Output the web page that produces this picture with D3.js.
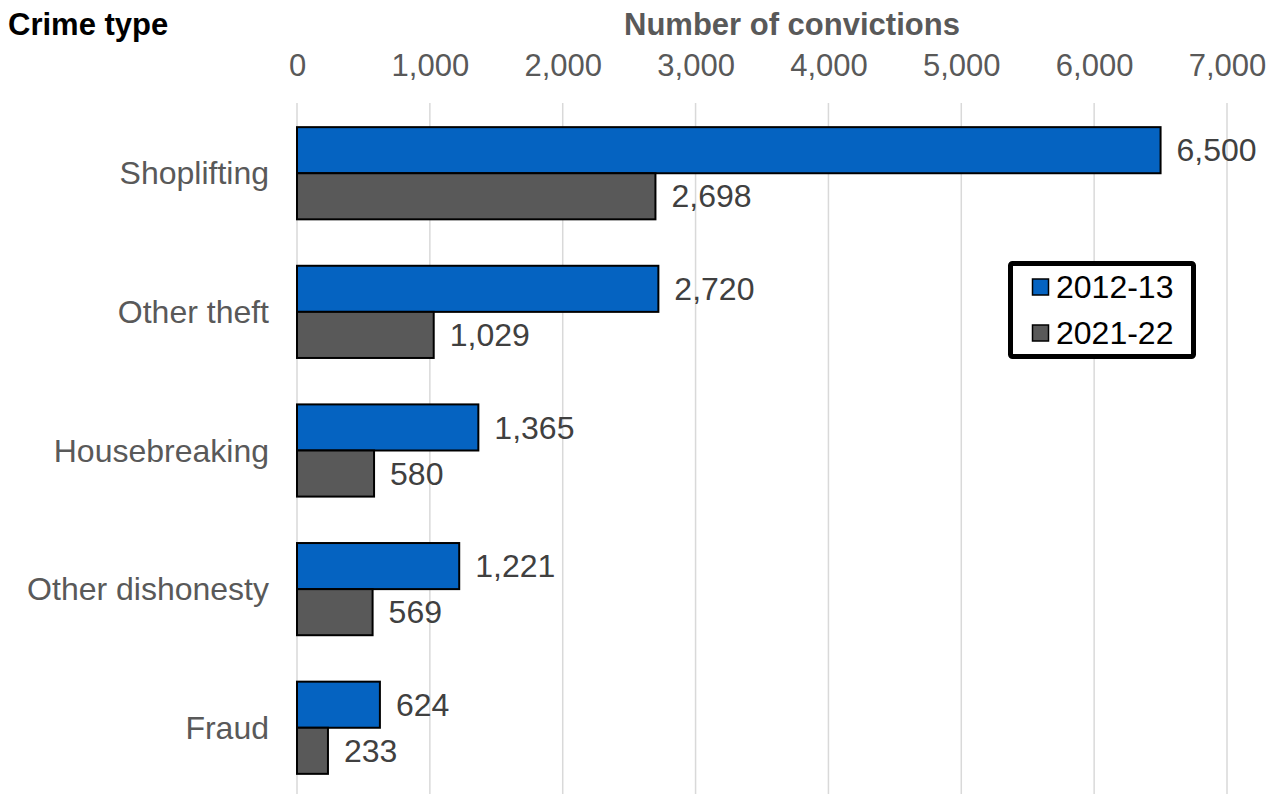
<!DOCTYPE html>
<html>
<head>
<meta charset="utf-8">
<script src="https://cdn.jsdelivr.net/npm/d3@7"></script>
<style>
  html, body { margin: 0; padding: 0; background: #fff; }
  svg { display: block; font-family: "Liberation Sans", Arial, sans-serif; }
</style>
</head>
<body>
<svg id="chart" width="1281" height="794"></svg>
<script>
// Convictions by crime type, two reporting years
const categories = ["Shoplifting", "Other theft", "Housebreaking", "Other dishonesty", "Fraud"];
const seriesNames = ["2012-13", "2021-22"];
const values2012 = [6500, 2720, 1365, 1221, 624];
const values2021 = [2698, 1029, 580, 569, 233];
const tickValues = [0, 1000, 2000, 3000, 4000, 5000, 6000, 7000];
const seriesColors = ["#0563C1", "#595959"];

const FONT = 32;
const TICK_FONT = 31;
const svg = d3.select("#chart");
const fmt = d3.format(",");

const x = d3.scaleLinear().domain([0, 7000]).range([297, 1227]);
const y = d3.scaleBand().domain(categories).range([104, 797]).paddingInner(0.335).paddingOuter(0.167);
const ySub = d3.scaleBand().domain(seriesNames).range([0, y.bandwidth()]);

// Vertical gridlines
svg.append("g")
  .selectAll("line")
  .data(tickValues)
  .join("line")
  .attr("x1", d => x(d)).attr("x2", d => x(d))
  .attr("y1", 103).attr("y2", 794)
  .attr("stroke", "#d9d9d9").attr("stroke-width", 1.5);

// Top axis tick labels
const axis = d3.axisTop(x).tickValues(tickValues).tickFormat(fmt).tickSize(0).tickPadding(0);
const axisG = svg.append("g").attr("transform", "translate(0,76)").call(axis);
axisG.select(".domain").remove();
axisG.selectAll("text")
  .attr("font-size", TICK_FONT).attr("fill", "#595959")
  .attr("font-family", "Liberation Sans, Arial, sans-serif")
  .attr("dy", 0);

// Category labels
svg.append("g")
  .selectAll("text")
  .data(categories)
  .join("text")
  .attr("x", 269)
  .attr("y", d => y(d) + y.bandwidth() / 2)
  .attr("dy", "0.35em")
  .attr("text-anchor", "end")
  .attr("font-size", FONT).attr("fill", "#595959")
  .text(d => d);

// Bars
const rows = categories.map((c, i) => [
  { cat: c, series: seriesNames[0], value: values2012[i], color: seriesColors[0] },
  { cat: c, series: seriesNames[1], value: values2021[i], color: seriesColors[1] }
]).flat();

svg.append("g")
  .selectAll("rect")
  .data(rows)
  .join("rect")
  .attr("x", x(0))
  .attr("y", d => y(d.cat) + ySub(d.series))
  .attr("width", d => x(d.value) - x(0))
  .attr("height", ySub.bandwidth())
  .attr("fill", d => d.color)
  .attr("stroke", "#000").attr("stroke-width", 2);

// Value labels
svg.append("g")
  .selectAll("text")
  .data(rows)
  .join("text")
  .attr("x", d => x(d.value) + 16)
  .attr("y", d => y(d.cat) + ySub(d.series) + ySub.bandwidth() / 2)
  .attr("dy", "0.35em")
  .attr("font-size", FONT).attr("fill", "#404040")
  .text(d => fmt(d.value));

// Titles
svg.append("text")
  .attr("x", 8).attr("y", 35)
  .attr("font-size", 31).attr("font-weight", "bold").attr("fill", "#000")
  .text("Crime type");
svg.append("text")
  .attr("x", 624).attr("y", 35)
  .attr("font-size", 31).attr("font-weight", "bold").attr("fill", "#595959")
  .text("Number of convictions");

// Legend
const legend = svg.append("g");
legend.append("rect")
  .attr("x", 1010.5).attr("y", 263.5).attr("width", 183).attr("height", 93)
  .attr("fill", "#fff").attr("stroke", "#000").attr("stroke-width", 5).attr("rx", 2);
seriesNames.forEach((s, i) => {
  const cy = 287 + i * 46;
  legend.append("rect")
    .attr("x", 1032.5).attr("y", cy - 8).attr("width", 16).attr("height", 16)
    .attr("fill", seriesColors[i]).attr("stroke", "#000").attr("stroke-width", 1.5);
  legend.append("text")
    .attr("x", 1056).attr("y", cy).attr("dy", "0.35em")
    .attr("font-size", FONT).attr("fill", "#000")
    .text(s);
});
</script>
</body>
</html>
